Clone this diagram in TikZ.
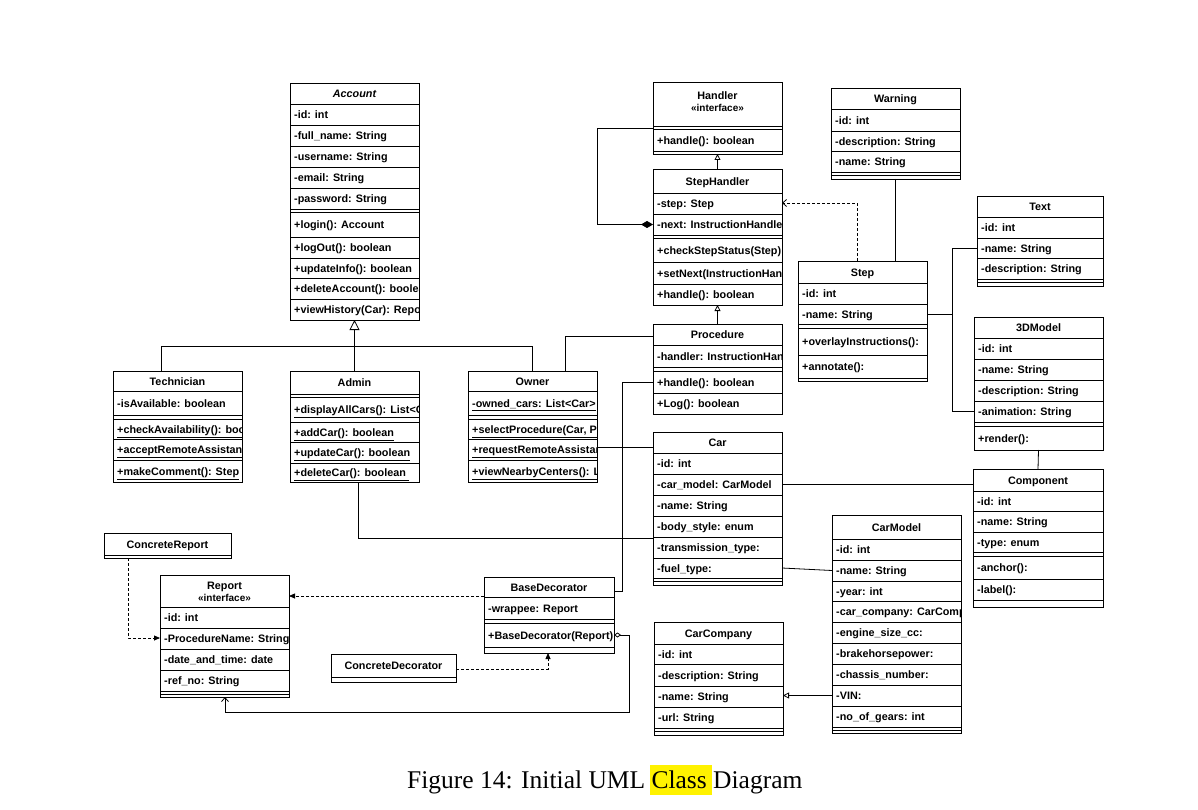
\documentclass[tikz,border=0pt]{standalone}
\usepackage{fontspec}
\setmainfont{Liberation Sans}
\newfontfamily\capfont{Liberation Serif}
\usetikzlibrary{arrows.meta}
\tikzset{
  uline/.style={draw=black, line width=0.8pt},
  ubox/.style={draw=black, line width=0.9pt, inner sep=0pt, outer sep=0pt, rectangle},
  urow/.style={draw=black, line width=0.8pt, inner sep=0pt, outer sep=0pt, rectangle},
  utext/.style={inner sep=0pt, font=\fontsize{10.8}{12.5}\selectfont\bfseries, text height=7.8pt, text depth=2.2pt},
  utexttwo/.style={inner sep=0pt, align=center, font=\fontsize{10.8}{12.5}\selectfont\bfseries},
  conn/.style={draw=black, line width=0.8pt},
  dashconn/.style={draw=black, line width=0.8pt, dash pattern=on 3pt off 2pt},
  genbig/.style={-{Triangle[open,length=10pt,width=10pt]}},
  gensmall/.style={-{Triangle[open,length=6pt,width=6pt]}},
  fillarrow/.style={-{Triangle[length=6pt,width=5pt]}},
  openarrow/.style={-{Straight Barb[length=4pt,width=7pt]}},
  compo/.style={-{Diamond[length=12pt,width=7pt]}},
  aggr/.style={{Diamond[open,length=7pt,width=5pt]}-{Straight Barb[length=4pt,width=7pt]}},
}
% name, x, ytop, width, ybottom
\newcommand\UBox[5]{\node[ubox, minimum width=#4, minimum height={#5-#3}, anchor=north west] (#1) at (#2,#3) {};}
% name, x, ytop, width, ybottom, text
\newcommand\URow[6]{%
  \node[urow, minimum width=#4, minimum height={#5-#3}, anchor=north west] (#1) at (#2,#3) {};
  \begin{scope}
    \clip (#1.south west) rectangle (#1.north east);
    \node[utext, anchor=west] (#1t) at ([xshift=4pt,yshift=-1.3pt]#1.west) {#6};
  \end{scope}}
\newcommand\UHead[6]{%
  \node[urow, minimum width=#4, minimum height={#5-#3}, anchor=north west] (#1) at (#2,#3) {};
  \node[utext] (#1t) at ([yshift=-1.3pt]#1.center) {#6};}
\newcommand\USep[3]{\draw[uline] (#1,#2) -- ++(#3,0);}
\begin{document}
\begin{tikzpicture}[x=1pt,y=-1pt]
\useasboundingbox (0,0) rectangle (1198,810);
\fill[white] (0,0) rectangle (1198,810);

% ---------------- Account
\UHead{acch}{290}{83}{129}{104}{\itshape Account}
\URow{acca1}{290}{104}{129}{125}{-id: int}
\URow{acca2}{290}{125}{129}{146}{-full\_name: String}
\URow{acca3}{290}{146}{129}{167}{-username: String}
\URow{acca4}{290}{167}{129}{188}{-email: String}
\URow{acca5}{290}{188}{129}{209}{-password: String}
\URow{accm1}{290}{212}{129}{237}{+login(): Account}
\URow{accm2}{290}{237}{129}{258}{+logOut(): boolean}
\URow{accm3}{290}{258}{129}{278}{+updateInfo(): boolean}
\URow{accm4}{290}{278}{129}{299}{+deleteAccount(): boolea}
\URow{accm5}{290}{299}{129}{320}{+viewHistory(Car): Report}
\UBox{acc}{290}{83}{129}{320}

% ---------------- Technician
\UHead{techh}{113}{371}{129}{391}{Technician}
\URow{techa1}{113}{391}{129}{415}{-isAvailable: boolean}
\URow{techm1}{113}{419}{129}{439}{\underline{+checkAvailability(): boolean}}
\URow{techm2}{113}{439}{129}{460}{\underline{+acceptRemoteAssistance}}
\URow{techm3}{113}{460}{129}{482}{\underline{+makeComment(): Step}}
\UBox{tech}{113}{371}{129}{482}

% ---------------- Admin
\UHead{adminh}{290}{371}{129}{394}{Admin}
\URow{adminm1}{290}{397}{129}{422}{\underline{+displayAllCars(): List<Car>}}
\URow{adminm2}{290}{422}{129}{442}{\underline{+addCar(): boolean}}
\URow{adminm3}{290}{442}{129}{463}{\underline{+updateCar(): boolean}}
\URow{adminm4}{290}{463}{129}{482}{\underline{+deleteCar(): boolean\ }}
\UBox{admin}{290}{371}{129}{482}

% ---------------- Owner
\UHead{ownerh}{468}{371}{129}{391}{Owner}
\URow{ownera1}{468}{391}{129}{415}{\underline{-owned\_cars: List<Car>}}
\URow{ownerm1}{468}{419}{129}{439}{\underline{+selectProcedure(Car, Procedure)}}
\URow{ownerm2}{468}{439}{129}{460}{\underline{+requestRemoteAssistance}}
\URow{ownerm3}{468}{460}{129}{482}{\underline{+viewNearbyCenters(): List}}
\UBox{owner}{468}{371}{129}{482}

% ---------------- Handler
\node[urow, minimum width=129, minimum height=44, anchor=north west] (handlerh) at (653,82) {};
\node[utexttwo] (handlerht) at (717.5,101.5) {Handler\\[-1pt]\fontsize{10}{11}\selectfont«interface»};
\URow{handlerm1}{653}{129}{129}{151}{+handle(): boolean}
\UBox{handler}{653}{82}{129}{154}

% ---------------- StepHandler
\UHead{shh}{653}{169}{129}{193}{StepHandler}
\URow{sha1}{653}{193}{129}{214}{-step: Step}
\URow{sha2}{653}{214}{129}{235}{-next: InstructionHandler}
\URow{shm1}{653}{238}{129}{262}{+checkStepStatus(Step): boolean}
\URow{shm2}{653}{262}{129}{284}{+setNext(InstructionHandler)}
\URow{shm3}{653}{284}{129}{305}{+handle(): boolean}
\UBox{sh}{653}{169}{129}{305}

% ---------------- Procedure
\UHead{proch}{653}{324}{129}{345}{Procedure}
\URow{proca1}{653}{345}{129}{367}{-handler: InstructionHandler}
\URow{procm1}{653}{371}{129}{393}{+handle(): boolean}
\URow{procm2}{653}{393}{129}{414}{+Log(): boolean}
\UBox{proc}{653}{324}{129}{414}

% ---------------- Warning
\UHead{warnh}{831}{88}{129}{109}{Warning}
\URow{warna1}{831}{109}{129}{131}{-id: int}
\URow{warna2}{831}{131}{129}{151}{-description: String}
\URow{warna3}{831}{151}{129}{172}{-name: String}
\USep{831}{175}{129}
\UBox{warn}{831}{88}{129}{179}

% ---------------- Step
\UHead{steph}{798}{261}{129}{283}{Step}
\URow{stepa1}{798}{283}{129}{304}{-id: int}
\URow{stepa2}{798}{304}{129}{324}{-name: String}
\URow{stepm1}{798}{328}{129}{355}{+overlayInstructions():}
\URow{stepm2}{798}{355}{129}{378}{+annotate():}
\UBox{step}{798}{261}{129}{381}

% ---------------- Text
\UHead{texth}{977}{196}{126}{217}{Text}
\URow{texta1}{977}{217}{126}{238}{-id: int}
\URow{texta2}{977}{238}{126}{258}{-name: String}
\URow{texta3}{977}{258}{126}{279}{-description: String}
\USep{977}{282.5}{126}
\UBox{text}{977}{196}{126}{286}

% ---------------- 3DModel
\UHead{tdh}{974}{317}{129}{338}{3DModel}
\URow{tda1}{974}{338}{129}{359}{-id: int}
\URow{tda2}{974}{359}{129}{380}{-name: String}
\URow{tda3}{974}{380}{129}{401}{-description: String}
\URow{tda4}{974}{401}{129}{422}{-animation: String}
\URow{tdm1}{974}{426}{129}{450}{+render():}
\UBox{td}{974}{317}{129}{450}

% ---------------- Component
\UHead{comph}{973}{469}{130}{491}{Component}
\URow{compa1}{973}{491}{130}{511}{-id: int}
\URow{compa2}{973}{511}{130}{532}{-name: String}
\URow{compa3}{973}{532}{130}{552}{-type: enum}
\URow{compm1}{973}{556}{130}{579}{-anchor():}
\URow{compm2}{973}{579}{130}{600}{-label():}
\UBox{comp}{973}{469}{130}{607}

% ---------------- Car
\UHead{carh}{653}{432}{129}{453}{Car}
\URow{cara1}{653}{453}{129}{474}{-id: int}
\URow{cara2}{653}{474}{129}{495}{-car\_model: CarModel}
\URow{cara3}{653}{495}{129}{516}{-name: String}
\URow{cara4}{653}{516}{129}{537}{-body\_style: enum}
\URow{cara5}{653}{537}{129}{558}{-transmission\_type:}
\URow{cara6}{653}{558}{129}{578}{-fuel\_type:}
\USep{653}{581.5}{129}
\UBox{car}{653}{432}{129}{585}

% ---------------- CarModel
\UHead{cmh}{832}{515}{129}{539}{CarModel}
\URow{cma1}{832}{539}{129}{560}{-id: int}
\URow{cma2}{832}{560}{129}{581}{-name: String}
\URow{cma3}{832}{581}{129}{601}{-year: int}
\URow{cma4}{832}{601}{129}{622}{-car\_company: CarCompany}
\URow{cma5}{832}{622}{129}{643}{-engine\_size\_cc:}
\URow{cma6}{832}{643}{129}{664}{-brakehorsepower:}
\URow{cma7}{832}{664}{129}{685}{-chassis\_number:}
\URow{cma8}{832}{685}{129}{706}{-VIN:}
\URow{cma9}{832}{706}{129}{727}{-no\_of\_gears: int}
\USep{832}{730}{129}
\UBox{cm}{832}{515}{129}{733}

% ---------------- CarCompany
\UHead{cch}{654}{622}{129}{644}{CarCompany}
\URow{cca1}{654}{644}{129}{664}{-id: int}
\URow{cca2}{654}{664}{129}{686}{-description: String}
\URow{cca3}{654}{686}{129}{707}{-name: String}
\URow{cca4}{654}{707}{129}{728}{-url: String}
\USep{654}{731.5}{129}
\UBox{cc}{654}{622}{129}{735}

% ---------------- Report
\node[urow, minimum width=129, minimum height=32, anchor=north west] (reph) at (160,575) {};
\node[utexttwo] (repht) at ([yshift=-1pt]reph.center) {Report\\[-1pt]\fontsize{10}{11}\selectfont«interface»};
\URow{repa1}{160}{607}{129}{628}{-id: int}
\URow{repa2}{160}{628}{129}{649}{-ProcedureName: String}
\URow{repa3}{160}{649}{129}{670}{-date\_and\_time: date}
\URow{repa4}{160}{670}{129}{691}{-ref\_no: String}
\USep{160}{694}{129}
\UBox{rep}{160}{575}{129}{697}

% ---------------- BaseDecorator
\UHead{bdh}{484}{577}{130}{597}{BaseDecorator}
\URow{bda1}{484}{597}{130}{619}{-wrappee: Report}
\URow{bdm1}{484}{623}{130}{647}{+BaseDecorator(Report)}
\UBox{bd}{484}{577}{130}{653}

% ---------------- ConcreteReport
\UHead{creph}{104}{533}{127}{555}{ConcreteReport}
\UBox{crep}{104}{533}{127}{558}

% ---------------- ConcreteDecorator
\UHead{cdech}{331}{654}{125}{677}{ConcreteDecorator}
\UBox{cdec}{331}{654}{125}{682}

% ================= connectors
\coordinate (tj) at (161,346);
\draw[conn] (tj |- tech.north) -- (tj) -- (tj -| owner.north) -- (owner.north);
\draw[conn, genbig] (admin.north) -- (acc.south);

\coordinate (oj) at (565,336);
\draw[conn] (oj |- owner.north) -- (oj) -- (oj -| proch.west);

\coordinate (cj) at (653,447);
\draw[conn] (cj -| owner.east) -- (cj -| car.west);

\coordinate (pj) at (622,591);
\draw[conn] (procm1.west) -- (pj |- procm1.west) -- (pj) -- (pj -| bd.east);

\coordinate (aj) at (358,538);
\draw[conn] (aj |- admin.south) -- (aj) -- (aj -| car.west);

\draw[conn] (cara2.east) -- (cara2.east -| comp.west);
\draw[conn] (cara6.east) -- (cma2.west);
\draw[conn, gensmall] (cma8.west) -- (cma8.west -| cc.east);
\draw[conn] (td.south) -- (comp.north);

\coordinate (sj) at (952,314);
\draw[conn] (stepa2.east) -- (sj);
\draw[conn] (texta2.west) -| (sj) |- (tda4.west);
\draw[conn] (warn.south) -- (warn.south |- step.north);

\coordinate (dj) at (857,203);
\draw[dashconn, openarrow] (dj |- step.north) -- (dj) -- (dj -| sh.east);

\draw[conn, gensmall] (sh.north) -- (handler.south);
\draw[conn, gensmall] (proc.north) -- (sh.south);

\coordinate (hj) at (597,128);
\draw[conn, compo] (hj -| handler.west) -- (hj) |- (sha2.west);

\coordinate (rj) at (128,638);
\draw[dashconn, fillarrow] (rj |- crep.south) -- (rj) -- (rj -| rep.west);

\coordinate (bj) at (484,596);
\draw[dashconn, fillarrow] (bj -| bd.west) -- (bj -| rep.east);

\coordinate (ej) at (548,669);
\draw[dashconn, fillarrow] (ej -| cdec.east) -- (ej) -- (ej |- bd.south);

\coordinate (gj) at (225,712);
\coordinate (gk) at (629,712);
\draw[conn, aggr] (bdm1.east) -- (bdm1.east -| gk) -- (gk) -- (gj) -- (gj |- rep.south);

% ================= caption
\fill[yellow] (650,765) rectangle (712,795);
\node[anchor=base west, inner sep=0pt, font=\capfont\fontsize{25.5}{30}\selectfont] (caption) at (407,788) {Figure 14: Initial UML Class Diagram};
\end{tikzpicture}
\end{document}
